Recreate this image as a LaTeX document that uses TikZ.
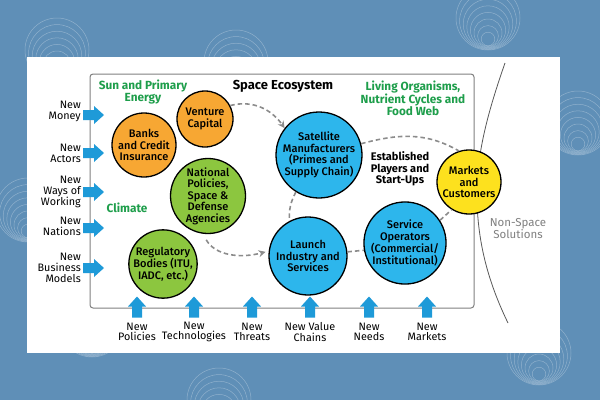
\documentclass[tikz,border=0pt]{standalone}
\usepackage{fontspec}
\setmainfont{Fira Sans}
\newfontfamily\midfont{Fira Sans Medium}
\usetikzlibrary{arrows.meta}
\definecolor{bgblue}{HTML}{5F8FB7}
\definecolor{orng}{HTML}{F7A733}
\definecolor{grn}{HTML}{8CC63F}
\definecolor{cyanblue}{HTML}{2DB6EC}
\definecolor{yllw}{HTML}{FDE11E}
\definecolor{arrowblue}{HTML}{1E9AD8}
\definecolor{txtgreen}{HTML}{1E9E4B}
\definecolor{dashgray}{HTML}{8C8C8C}
\tikzset{
  bubble/.style={circle,draw=black,line width=1.3pt,align=center,inner sep=0pt,
    font=\midfont\fontsize{11}{11.5}\selectfont},
  sidelbl/.style={align=right,anchor=east,inner sep=0pt,font=\fontsize{10.8}{11}\selectfont},
  footlbl/.style={align=center,inner sep=0pt,font=\fontsize{10.8}{10.5}\selectfont},
  greenlbl/.style={align=center,inner sep=0pt,text=txtgreen,font=\bfseries\fontsize{11.8}{11.8}\selectfont},
  dashline/.style={draw=dashgray,line width=1.6pt,dash pattern=on 4.5pt off 3pt},
  dasharrow/.style={dashline,-{Stealth[length=7pt,width=7pt]}},
  inarrow/.pic={\fill[arrowblue] (-10.5,-5)--(0.5,-5)--(0.5,-9)--(10.5,0)--(0.5,9)--(0.5,5)--(-10.5,5)--cycle;},
  ripple/.pic={\foreach \k in {0,...,7}{\draw[white,opacity=.3,line width=.5pt] (0,{-3*\k}) circle ({32-3.6*\k});}}
}
\begin{document}
\begin{tikzpicture}[x=1pt,y=1pt]
\fill[bgblue] (0,0) rectangle (600,-400);
\useasboundingbox (0,0) rectangle (600,-400);
\foreach \cx/\cy in {57/-50,236/-62,488/-18,578/-123,28/-210,219/-400,92/-325,539/-353}
  \pic at (\cx,\cy) {ripple};
\fill[white] (27,-57) rectangle (560,-353);
\draw[gray,line width=1pt,rounded corners=3pt] (90,-74) rectangle (474,-308);
\draw[black!65,line width=.8pt] (505,-63) .. controls (485,-120) and (476,-160) .. (477,-200)
  .. controls (478,-250) and (492,-290) .. (508,-323);
\node[font=\bfseries\fontsize{13}{13}\selectfont] (title) at (283,-86) {Space Ecosystem};
\node[greenlbl] (sun) at (143,-92) {Sun and Primary\\Energy};
\node[greenlbl] (living) at (413,-98) {Living Organisms,\\Nutrient Cycles and\\Food Web};
\node[greenlbl] (climate) at (127,-208) {Climate};
\node[align=center,inner sep=0pt,font=\bfseries\fontsize{11}{11.5}\selectfont] (estab) at (400,-169) {Established\\Players and\\Start-Ups};
\node[align=center,inner sep=0pt,text=black!50,font=\fontsize{11.5}{11.5}\selectfont] (nonspace) at (518,-228.5) {Non-Space\\Solutions};
\node[bubble,fill=orng,minimum size=64pt] (banks) at (144,-145) {Banks\\and Credit\\Insurance};
\node[bubble,fill=orng,minimum size=56pt] (venture) at (205,-119) {Venture\\Capital};
\node[bubble,fill=grn,minimum size=75pt] (natl) at (208,-196) {National\\Policies,\\Space \&\\Defense\\Agencies};
\node[bubble,fill=grn,minimum size=68pt] (reg) at (163,-264) {Regulatory\\Bodies (ITU,\\IADC, etc.)};
\node[bubble,fill=cyanblue,minimum size=86pt] (sat) at (319,-155) {Satellite\\Manufacturers\\(Primes and\\Supply Chain)};
\node[bubble,fill=cyanblue,minimum size=78pt] (launch) at (308,-256) {Launch\\Industry and\\Services};
\node[bubble,fill=cyanblue,minimum size=80pt] (serv) at (405,-243) {Service\\Operators\\(Commercial/\\Institutional)};
\node[bubble,fill=yllw,minimum size=64pt] (mkt) at (469,-182) {Markets\\and\\Customers};
\draw[dasharrow] (venture.28) to[out=15,in=125] (sat.142);
\draw[dasharrow,shorten <=7pt] (natl.262) to[out=-60,in=195] ([xshift=-3pt]launch.174);
\draw[dashline] (sat.15) to[out=15,in=150] (mkt.108);
\draw[dashline] (sat.238) to[bend right=15] (launch.118);
\draw[dashline] (launch.6) -- (serv.190);
\draw[dashline] (serv.33) -- (mkt.238);
\node[sidelbl] (lmoney) at (81,-111.5) {New\\Money};
\node[sidelbl] (lactors) at (81,-153) {New\\Actors};
\node[sidelbl] (lways) at (81,-192) {New\\Ways of\\Working};
\node[sidelbl] (lnations) at (81,-226.5) {New\\Nations};
\node[sidelbl] (lbusiness) at (81,-267.5) {New\\Business\\Models};
\foreach \y in {-115,-153,-192,-228,-268}
  \pic at (93.5,\y) {inarrow};
\foreach \x/\t [count=\i] in {137/{New\\Policies},194/{New\\Technologies},252/{New\\Threats},
    310/{New Value\\Chains},369/{New\\Needs},427/{New\\Markets}}{
  \pic[rotate=90] at (\x,-307) {inarrow};
  \node[footlbl] (foot\i) at (\x,-332) {\t};
}
\end{tikzpicture}
\end{document}
